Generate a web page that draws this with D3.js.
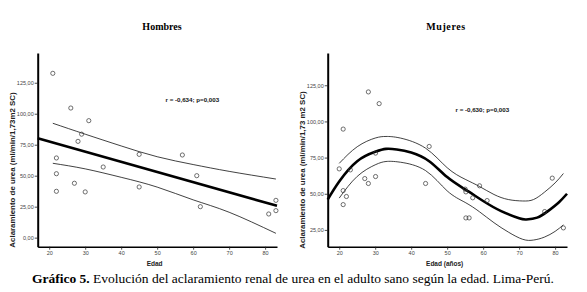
<!DOCTYPE html>
<html>
<head>
<meta charset="utf-8">
<script src="https://cdn.jsdelivr.net/npm/d3@7"></script>
<style>
  body { margin: 0; background: #fff; }
  svg { display: block; }
  .tick text { font-family: "Liberation Sans", Arial, sans-serif; font-size: 5.5px; fill: #444; }
  .tick line { stroke: #222; stroke-width: 0.8; }
</style>
</head>
<body>
<svg id="chart" width="587" height="292"></svg>
<script>
// ---------- DATA ----------
const xTicks = [20, 30, 40, 50, 60, 70, 80];
const yTicksMen = [0, 25, 50, 75, 100, 125];
const yTicksWomen = [25, 50, 75, 100, 125];

// Hombres: scatter points (age, urea clearance)
const menAge = [21, 26, 31, 29, 28, 22, 22, 22, 27, 30, 35, 45, 45, 57, 61, 62, 81, 83, 83];
const menVal = [132.6, 104.6, 94.4, 83.5, 77.7, 64.3, 51.6, 37.4, 43.9, 36.9, 57.0, 67.2, 40.9, 66.7, 50.0, 25.0, 19.1, 30.1, 21.8];
// Hombres: linear fit and 95% band
const menFitAge = [16.8, 83.3];
const menFitVal = [80.2, 25.7];
const menBandAge = [21, 30, 40, 50, 60, 70, 83];
const menUpper = [92.3, 83.5, 74.0, 65.3, 59.0, 53.5, 47.3];
const menLower = [60.0, 55.5, 48.7, 40.8, 30.5, 20.5, 3.5];

// Mujeres: scatter points
const womenAge = [21.1, 28.1, 31.1, 20.0, 23.1, 21.1, 22.0, 21.1, 27.1, 28.1, 30.1, 30.1, 45.0, 44.0, 55.0, 55.2, 57.1, 59.0, 61.1, 55.2, 56.1, 77.1, 79.2, 82.3];
const womenVal = [94.7, 120.4, 112.3, 67.2, 66.5, 52.2, 48.1, 42.5, 60.5, 57.1, 78.1, 61.9, 82.7, 57.1, 53.2, 51.3, 47.2, 55.5, 45.3, 33.3, 33.3, 37.7, 60.8, 26.4];
// Mujeres: cubic fit and 95% band
const womenFitAge = [16.8, 20, 25, 30, 33, 36, 40, 45, 50, 55, 60, 65, 70, 72, 75, 78, 81, 83.3];
const womenFitVal = [46, 58.5, 72.5, 79, 81, 80.6, 78.5, 72.5, 61.5, 53, 45, 38, 33, 32.2, 33.5, 38, 44, 50];
const womenBandAge = [20, 25, 30, 33, 37, 44, 50, 55, 59, 63, 67, 71, 74, 77, 80, 82.3];
const womenUpper = [71, 82.5, 88.5, 89.6, 88.5, 81.5, 68, 60, 55, 49.5, 46, 45, 46, 51, 57.5, 64];
const womenLower = [47, 62, 70, 72.3, 71.8, 66, 52, 44, 37.5, 30, 23.5, 18.5, 18, 20, 24, 28.5];

// ---------- DRAW ----------
const svg = d3.select("#chart");
const fmt = d => d.toFixed(2).replace(".", ",");
const zip = (a, b) => a.map((v, i) => [v, b[i]]);

function panel(opt) {
  const x = d3.scaleLinear().domain([16.8, 83.3]).range([opt.x0, opt.x0 + 239.3]);
  const y = d3.scaleLinear().domain(opt.yDomain).range([246.7, 53]);
  const g = svg.append("g");

  // title
  g.append("text").attr("x", opt.titleX).attr("y", 30)
    .attr("text-anchor", "middle")
    .style("font-family", "'Liberation Serif', 'Times New Roman', serif")
    .style("font-weight", "bold").style("font-size", "10px")
    .style("letter-spacing", opt.titleSpacing || "0px")
    .text(opt.title);

  // y axis
  const ya = g.append("g").attr("transform", `translate(${opt.x0},0)`)
    .call(d3.axisLeft(y).tickValues(opt.yTicks).tickFormat(fmt).tickSize(3).tickSizeOuter(0).tickPadding(1));
  ya.select(".domain").attr("stroke", "#000").attr("stroke-width", 2);

  // x axis
  const xa = g.append("g").attr("transform", "translate(0,246.7)")
    .call(d3.axisBottom(x).tickValues(xTicks).tickFormat(d3.format("d")).tickSize(3).tickSizeOuter(0).tickPadding(1.5));
  xa.select(".domain").attr("stroke", "#000").attr("stroke-width", 1.6);

  // axis labels
  g.append("text").attr("x", x(49.3)).attr("y", 265.5)
    .attr("text-anchor", "middle")
    .style("font-family", "'Liberation Sans', Arial, sans-serif")
    .style("font-weight", "bold").style("font-size", "6.5px").style("fill", "#222")
    .text(opt.xLabel);
  g.append("text")
    .attr("transform", `translate(${opt.x0 - 22.6},170) rotate(-90)`)
    .attr("text-anchor", "middle")
    .style("font-family", "'Liberation Sans', Arial, sans-serif")
    .style("font-weight", "bold").style("font-size", "7.9px").style("fill", "#222")
    .text(opt.yLabel);

  // annotation
  g.append("text").attr("x", opt.annX).attr("y", opt.annY)
    .style("font-family", "'Liberation Sans', Arial, sans-serif")
    .style("font-weight", "bold").style("font-size", "6.2px").style("fill", "#111")
    .text(opt.ann);

  const line = d3.line().x(d => x(d[0])).y(d => y(d[1])).curve(opt.curve);

  // bands
  g.append("path").datum(zip(opt.bandAge, opt.upper)).attr("d", line)
    .attr("fill", "none").attr("stroke", "#111").attr("stroke-width", 0.8);
  g.append("path").datum(zip(opt.bandAge, opt.lower)).attr("d", line)
    .attr("fill", "none").attr("stroke", "#111").attr("stroke-width", 0.8);
  // fit
  g.append("path").datum(zip(opt.fitAge, opt.fitVal)).attr("d", line)
    .attr("fill", "none").attr("stroke", "#000").attr("stroke-width", 2.6);

  // points
  g.selectAll("circle.pt").data(zip(opt.age, opt.val)).join("circle")
    .attr("class", "pt")
    .attr("cx", d => x(d[0])).attr("cy", d => y(d[1])).attr("r", 2.1)
    .attr("fill", "none").attr("stroke", "#333").attr("stroke-width", 0.7);
}

panel({
  x0: 37.7, title: "Hombres", titleX: 162,
  yDomain: [-7.3, 149], yTicks: yTicksMen,
  xLabel: "Edad", yLabel: "Aclaramiento de urea (ml/min/1,73m2 SC)",
  ann: "r = -0,634; p=0,003", annX: 165.5, annY: 102,
  age: menAge, val: menVal,
  fitAge: menFitAge, fitVal: menFitVal,
  bandAge: menBandAge, upper: menUpper, lower: menLower,
  curve: d3.curveNatural
});

panel({
  x0: 327.7, title: "Mujeres", titleX: 446, titleSpacing: "0.6px",
  yDomain: [13.4, 147.3], yTicks: yTicksWomen,
  xLabel: "Edad (años)", yLabel: "Aclaramiento de urea (ml/min/1,73 m2 SC)",
  ann: "r = -0,630; p=0,003", annX: 455.5, annY: 112,
  age: womenAge, val: womenVal,
  fitAge: womenFitAge, fitVal: womenFitVal,
  bandAge: womenBandAge, upper: womenUpper, lower: womenLower,
  curve: d3.curveNatural
});

// caption
const cap = svg.append("text").attr("x", 32).attr("y", 283)
  .style("font-family", "'Liberation Serif', 'Times New Roman', serif")
  .style("font-size", "13.5px").style("fill", "#000");
cap.append("tspan").style("font-weight", "bold").text("Gráfico 5.");
cap.append("tspan").text(" Evolución del aclaramiento renal de urea en el adulto sano según la edad. Lima-Perú.");
</script>
</body>
</html>
